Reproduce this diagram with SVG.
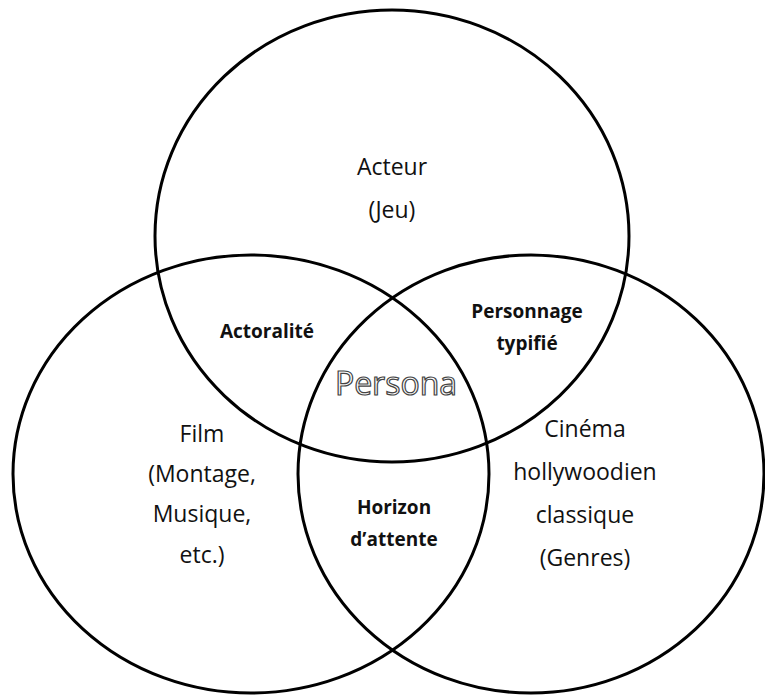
<svg xmlns="http://www.w3.org/2000/svg" width="765" height="697" viewBox="0 0 765 697">
<style>
.c{fill:none;stroke:#000;stroke-width:3}
.t{font-family:"Open Sans","Liberation Sans",sans-serif;font-size:23px;fill:#111;text-anchor:middle}
.b{font-family:"Open Sans","Liberation Sans",sans-serif;font-size:19px;font-weight:bold;fill:#111;text-anchor:middle}
.p{font-family:"Open Sans","Liberation Sans",sans-serif;font-size:32px;fill:#fff;stroke:#444;stroke-width:1.2;text-anchor:middle}
</style>
<rect width="765" height="697" fill="#fff"/>
<g id="acteur">
<ellipse class="c" cx="392" cy="236" rx="237" ry="226"/>
<text class="t" x="392" y="175">Acteur</text>
<text class="t" x="392" y="218">(Jeu)</text>
</g>
<g id="film">
<ellipse class="c" cx="251" cy="474" rx="238" ry="219"/>
<text class="t" x="202" y="442">Film</text>
<text class="t" x="202" y="482">(Montage,</text>
<text class="t" x="202" y="522">Musique,</text>
<text class="t" x="202" y="563">etc.)</text>
</g>
<g id="cinema">
<ellipse class="c" cx="531" cy="474" rx="233" ry="219"/>
<text class="t" x="585" y="437">Cinéma</text>
<text class="t" x="585" y="480">hollywoodien</text>
<text class="t" x="585" y="523">classique</text>
<text class="t" x="585" y="566">(Genres)</text>
</g>
<g id="actoralite"><text class="b" x="267" y="338">Actoralité</text></g>
<g id="personnage"><text class="b" x="527" y="318">Personnage</text><text class="b" x="527" y="350">typifié</text></g>
<g id="horizon"><text class="b" x="394" y="514">Horizon</text><text class="b" x="394" y="546">d’attente</text></g>
<g id="persona"><text class="p" x="396" y="395">Persona</text></g>
<g id="connectors"/>
</svg>
